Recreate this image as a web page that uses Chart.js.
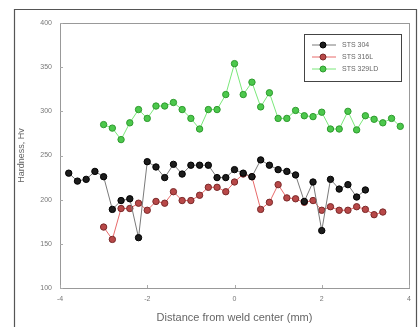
<!DOCTYPE html>
<html>
<head>
<meta charset="utf-8">
<script src="https://cdn.jsdelivr.net/npm/chart.js@4"></script>
<style>
  html, body { margin: 0; padding: 0; background: #fff; }
  #wrap { width: 418px; height: 327px; }
</style>
</head>
<body>
<div id="wrap"><canvas id="hvChart" width="418" height="327"></canvas></div>
<script>
// distance from weld center (mm), step 0.2
var xs304 = [];
for (var i = 0; i < 35; i++) xs304.push(Math.round((-3.8 + 0.2 * i) * 10) / 10);
var xs316 = [];
for (var i = 0; i < 33; i++) xs316.push(Math.round((-3.0 + 0.2 * i) * 10) / 10);
var xs329 = [];
for (var i = 0; i < 35; i++) xs329.push(Math.round((-3.0 + 0.2 * i) * 10) / 10);

var hv304 = [230, 221, 223, 232, 226, 189, 199, 201, 157, 243, 237, 225, 240, 229, 239, 239, 239, 225, 225, 234,
             230, 226, 245, 239, 234, 232, 228, 198, 220, 165, 223, 212, 217, 203, 211];
var hv316 = [169, 155, 190, 190, 196, 188, 198, 196, 209, 199, 199, 205, 214, 214, 209, 220, 229, 226, 189, 197,
             217, 202, 201, 197, 199, 188, 192, 188, 188, 192, 189, 183, 186];
var hv329 = [285, 281, 268, 287, 302, 292, 306, 306, 310, 302, 292, 280, 302, 302, 319, 354, 319, 333, 305, 321,
             292, 292, 301, 295, 294, 299, 280, 280, 300, 279, 295, 291, 287, 292, 283];

var seriesNames = ["STS 304", "STS 316L", "STS 329LD"];
var xTicks = [-4, -2, 0, 2, 4];
var yTicks = [100, 150, 200, 250, 300, 350, 400];

function pts(xs, ys) {
  return xs.map(function(x, k) { return { x: x, y: ys[k] }; });
}

var frames = {
  id: 'frames',
  afterDraw: function(chart) {
    var c = chart.ctx, a = chart.chartArea;
    var sx = chart.scales.x, sy = chart.scales.y;
    c.save();
    // outer figure frame
    c.strokeStyle = '#555';
    c.lineWidth = 1.2;
    c.beginPath();
    c.moveTo(14.5, 327);
    c.lineTo(14.5, 9.5);
    c.lineTo(416.5, 9.5);
    c.lineTo(416.5, 327);
    c.stroke();
    // plot frame
    c.strokeStyle = '#999';
    c.lineWidth = 1;
    c.strokeRect(a.left + 0.5, a.top + 0.5, a.right - a.left, a.bottom - a.top);
    // inward tick marks
    c.strokeStyle = '#aaa';
    c.beginPath();
    xTicks.forEach(function(v) {
      var px = Math.round(sx.getPixelForValue(v)) + 0.5;
      c.moveTo(px, a.bottom);
      c.lineTo(px, a.bottom - 3);
    });
    yTicks.forEach(function(v) {
      var py = Math.round(sy.getPixelForValue(v)) + 0.5;
      c.moveTo(a.left, py);
      c.lineTo(a.left + 3, py);
    });
    c.stroke();
    // legend box
    var lx = 304, ly = 34, lw = 97, lh = 47;
    c.fillStyle = '#fff';
    c.fillRect(lx, ly, lw, lh);
    c.strokeStyle = '#444';
    c.strokeRect(lx + 0.5, ly + 0.5, lw, lh);
    chart.data.datasets.forEach(function(ds, k) {
      var yy = ly + 11 + k * 12;
      c.strokeStyle = ds.borderColor;
      c.lineWidth = 1;
      c.beginPath();
      c.moveTo(lx + 8, yy);
      c.lineTo(lx + 32, yy);
      c.stroke();
      c.beginPath();
      c.arc(lx + 19, yy, 3, 0, Math.PI * 2);
      c.fillStyle = ds.pointBackgroundColor;
      c.fill();
      c.strokeStyle = ds.pointBorderColor;
      c.stroke();
      c.fillStyle = '#666';
      c.font = '7px "Liberation Sans", Arial, sans-serif';
      c.textBaseline = 'middle';
      c.textAlign = 'left';
      c.fillText(ds.label, lx + 38, yy);
    });
    c.restore();
  }
};

var ctx = document.getElementById("hvChart");

var hvChart = new Chart(ctx, {
  type: 'scatter',
  data: {
    datasets: [
      {
        label: seriesNames[0],
        data: pts(xs304, hv304),
        showLine: true,
        borderColor: "#7a7a7a",
        borderWidth: 1,
        pointBackgroundColor: "#1c1c1c",
        pointBorderColor: "#000",
        pointRadius: 3.2,
        pointBorderWidth: 1
      },
      {
        label: seriesNames[1],
        data: pts(xs316, hv316),
        showLine: true,
        borderColor: "#e86a6a",
        borderWidth: 1,
        pointBackgroundColor: "#b84848",
        pointBorderColor: "#7a2a2a",
        pointRadius: 3.2,
        pointBorderWidth: 1
      },
      {
        label: seriesNames[2],
        data: pts(xs329, hv329),
        showLine: true,
        borderColor: "#7ae87a",
        borderWidth: 1,
        pointBackgroundColor: "#4cc84c",
        pointBorderColor: "#2e9a2e",
        pointRadius: 3.2,
        pointBorderWidth: 1
      }
    ]
  },
  options: {
    responsive: false,
    animation: false,
    layout: { padding: { top: 23, right: 9, left: 0, bottom: 0 } },
    plugins: {
      legend: { display: false },
      tooltip: { enabled: false }
    },
    scales: {
      x: {
        type: 'linear',
        min: -4,
        max: 4,
        afterBuildTicks: function(s) { s.ticks = xTicks.map(function(v) { return { value: v }; }); },
        afterFit: function(s) { s.height = 39; },
        grid: { display: true, drawOnChartArea: false, drawTicks: false },
        border: { display: true, color: '#999' },
        ticks: {
          color: '#777',
          font: { size: 7, family: '"Liberation Sans", Arial, sans-serif' },
          padding: 7,
          maxRotation: 0
        },
        title: {
          display: true,
          text: 'Distance from weld center (mm)',
          color: '#666',
          font: { size: 11, family: '"Liberation Sans", Arial, sans-serif' },
          padding: { top: 0, bottom: 2 }
        }
      },
      y: {
        min: 100,
        max: 400,
        afterBuildTicks: function(s) { s.ticks = yTicks.map(function(v) { return { value: v }; }); },
        afterFit: function(s) { s.width = 60; },
        grid: { display: true, drawOnChartArea: false, drawTicks: false },
        border: { display: true, color: '#999' },
        ticks: {
          color: '#777',
          font: { size: 7, family: '"Liberation Sans", Arial, sans-serif' },
          padding: 8
        },
        title: {
          display: true,
          text: 'Hardness, Hv',
          color: '#666',
          font: { size: 9, family: '"Liberation Sans", Arial, sans-serif' },
          padding: { top: 16, bottom: 0 }
        }
      }
    }
  },
  plugins: [frames]
});
</script>
</body>
</html>
